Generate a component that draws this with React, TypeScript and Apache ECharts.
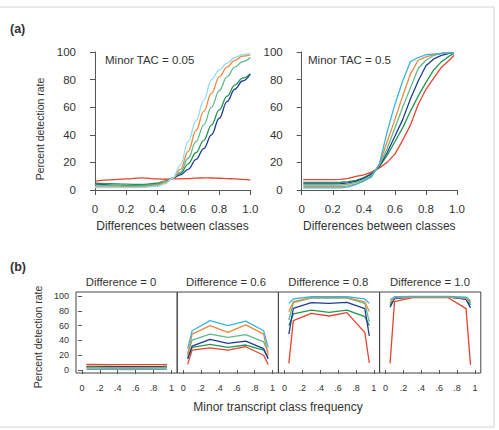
import React, { useEffect, useRef } from "react";
import * as echarts from "echarts";

// ---- Panel (a): detection rate vs. difference between classes ----
const diffX = [0, 0.1, 0.2, 0.3, 0.4, 0.45, 0.5, 0.55, 0.6, 0.65, 0.7, 0.75, 0.8, 0.85, 0.9, 0.95, 1.0];
const tac005Red = [6.5, 7.3, 8.0, 8.8, 8.0, 7.8, 8.0, 8.1, 8.3, 8.6, 8.8, 8.7, 8.5, 8.3, 8.0, 7.7, 7.3];
const tac005Green = [5.0, 4.6, 4.2, 4.0, 5.0, 6.5, 8.5, 12, 19, 27, 36, 47, 58, 68, 76, 81, 84];
const tac005Blue = [4.2, 3.6, 3.2, 3.0, 4.2, 6.0, 8.5, 11, 15, 22, 30, 40, 52, 64, 73, 79, 84];
const tac005Teal = [3.5, 3.2, 3.0, 3.0, 4.0, 6.0, 8.5, 13, 23, 35, 47, 60, 72, 82, 89, 93, 96];
const tac005Orange = [2.4, 2.2, 2.2, 2.3, 3.2, 5.2, 8.5, 15, 28, 43, 57, 70, 82, 89, 94, 97, 98];
const tac005Cyan = [1.8, 1.7, 1.7, 1.8, 2.6, 4.5, 8.5, 18, 35, 50, 65, 80, 87, 92, 96, 98, 99];

const diffX2 = [0.01, 0.1, 0.2, 0.25, 0.3, 0.35, 0.4, 0.45, 0.5, 0.55, 0.6, 0.65, 0.7, 0.75, 0.8, 0.85, 0.9, 0.95, 0.98];
const tac05Red = [7.5, 7.5, 7.5, 7.7, 8.5, 9.8, 11, 13, 16, 20, 26, 36, 47, 62, 73, 81, 89, 94, 97.5];
const tac05Green = [5.5, 5.5, 5.5, 5.6, 6.0, 7.0, 9.0, 12, 17, 25, 35, 45, 57, 68, 78, 87, 93, 97, 99];
const tac05Blue = [4.4, 4.4, 4.4, 4.6, 5.2, 6.5, 8.5, 11.5, 17, 27, 39, 51, 66, 79, 90, 95, 97.5, 99, 99.5];
const tac05Teal = [3.5, 3.5, 3.5, 3.6, 4.2, 5.5, 7.5, 10.5, 18, 30, 45, 60, 74, 88, 94, 97.5, 99, 99.5, 99.5];
const tac05Orange = [2.4, 2.4, 2.4, 2.5, 3.0, 4.5, 6.5, 10, 18.5, 35, 51, 68, 84, 94, 96.5, 98, 99, 99.5, 99.5];
const tac05Cyan = [1.5, 1.5, 1.5, 1.6, 2.2, 4.0, 6.5, 9.5, 19, 42, 62, 79, 93, 96, 98, 98.5, 99, 99.5, 99.5];

// ---- Panel (b): detection rate vs. minor transcript class frequency ----
const freqX = [0.05, 0.1, 0.3, 0.5, 0.7, 0.9, 0.95];
const differences = ["0", "0.6", "0.8", "1.0"];
const freqRed = [
  [7.5, 7.5, 7.3, 7.2, 7.3, 7.4, 7.5],
  [7.6, 27, 30, 27, 31.5, 20, 7.6],
  [9, 66.7, 76.6, 73, 77.5, 50.5, 9.5],
  [9, 92.3, 97.7, 98, 97.7, 83, 7],
];
const freqGreen = [
  [5, 5, 4.8, 4.6, 4.6, 4.8, 5],
  [17, 30.6, 34.7, 30.6, 33.8, 27, 17],
  [60, 75.7, 81, 78, 81, 72, 60],
  [88, 97, 98.5, 98.5, 98.5, 96, 88],
];
const freqBlue = [
  [4, 4, 4.2, 4.5, 4.4, 4.2, 4],
  [15, 32.4, 41.4, 36, 39, 29, 15],
  [48.6, 83.3, 91, 90, 91.4, 83, 46],
  [85, 96.5, 99, 99, 99, 95.5, 84],
];
const freqTeal = [
  [3.5, 3.5, 3.3, 3.2, 3.3, 3.4, 3.5],
  [22, 40.5, 48.6, 44, 47.7, 38, 24],
  [67.6, 91, 97, 97.5, 97, 90, 65],
  [90, 98, 99, 99, 99, 97, 90],
];
const freqOrange = [
  [2.5, 2.5, 2.4, 2.4, 2.4, 2.5, 2.5],
  [20, 48.6, 60, 51, 61, 48.6, 20],
  [78.8, 92.3, 97.7, 98, 97.7, 92, 79],
  [92, 98, 98.5, 99, 98.5, 97, 92],
];
const freqCyan = [
  [1, 1, 0.8, 0.7, 0.8, 0.9, 1],
  [29, 53, 66.7, 60, 66, 53, 30.7],
  [90, 96, 99, 99, 99, 96, 90],
  [95, 99, 99.5, 99.5, 99.5, 98.5, 94],
];

const bottomTicksX = [0, 0.2, 0.4, 0.6, 0.8, 1];
const bottomTicksY = [0, 20, 40, 60, 80, 100];

const COLORS = {
  red: "#e8432f",
  green: "#1f9a50",
  blue: "#1f3a94",
  teal: "#5fba8d",
  orange: "#f0873a",
  cyan: "#35b6e2",
  paleCyan: "#92dcef",
};

const FONT = "'Liberation Sans', Arial, Helvetica, sans-serif";
const AXIS_COLOR = "#555";
const TEXT_COLOR = "#333";

function pairs(xs: number[], ys: number[]) {
  return xs.map((x, i) => [x, ys[i]]);
}

export default function App() {
  const ref = useRef<HTMLDivElement>(null);

  useEffect(() => {
    if (!ref.current) return;
    const chart = echarts.init(ref.current, undefined, { renderer: "svg" });

    const grid: any[] = [];
    const xAxis: any[] = [];
    const yAxis: any[] = [];
    const series: any[] = [];

    const topLabelFmt = (v: number) => (v === 0 ? "0" : v.toFixed(1));
    const bottomLabelFmt = (v: number) => {
      if (Math.abs(v) < 1e-9) return "0";
      if (Math.abs(v - 1) < 1e-9) return "1";
      return "." + Math.round(v * 10);
    };

    // top panels: axes span only the tick range, pushed outward R-style
    const topLefts = [95, 301.7];
    topLefts.forEach((left) => {
      grid.push({ left, top: 52, width: 155.3, height: 138, show: false });
      xAxis.push({
        type: "value",
        gridIndex: grid.length - 1,
        min: 0,
        max: 1,
        interval: 0.2,
        offset: 5,
        axisLine: { show: true, lineStyle: { color: AXIS_COLOR, width: 1 } },
        axisTick: { show: true, length: 5, lineStyle: { color: AXIS_COLOR } },
        axisLabel: { fontSize: 11.5, color: TEXT_COLOR, fontFamily: FONT, margin: 8, formatter: topLabelFmt },
        splitLine: { show: false },
      });
      yAxis.push({
        type: "value",
        gridIndex: grid.length - 1,
        min: 0,
        max: 100,
        interval: 20,
        offset: 7,
        axisLine: { show: true, lineStyle: { color: AXIS_COLOR, width: 1 } },
        axisTick: { show: true, length: 5, lineStyle: { color: AXIS_COLOR } },
        axisLabel: { fontSize: 11.5, color: TEXT_COLOR, fontFamily: FONT, margin: 12 },
        splitLine: { show: false },
      });
    });

    const topSets = [
      { xs: diffX, smooth: true, lines: [
        [tac005Red, COLORS.red], [tac005Green, COLORS.green], [tac005Blue, COLORS.blue],
        [tac005Teal, COLORS.teal], [tac005Orange, COLORS.orange], [tac005Cyan, COLORS.paleCyan],
      ] },
      { xs: diffX2, smooth: false, lines: [
        [tac05Red, COLORS.red], [tac05Green, COLORS.green], [tac05Blue, COLORS.blue],
        [tac05Teal, COLORS.teal], [tac05Orange, COLORS.orange], [tac05Cyan, COLORS.cyan],
      ] },
    ];
    topSets.forEach((set, gi) => {
      set.lines.forEach(([vals, color]) => {
        series.push({
          type: "line",
          xAxisIndex: gi,
          yAxisIndex: gi,
          data: pairs(set.xs, vals as number[]),
          smooth: set.smooth ? 0.4 : false,
          smoothMonotone: "x",
          showSymbol: false,
          symbol: "none",
          lineStyle: { color: color as string, width: 1.3 },
          clip: false,
        });
      });
    });

    // bottom lattice panels: boxed, padded ranges, ticks at fixed values
    const panelLefts = [76, 177.2, 278.4, 379.6];
    panelLefts.forEach((left, p) => {
      grid.push({ left, top: 292, width: 101.2, height: 81, show: true, borderColor: "#444", borderWidth: 1, backgroundColor: "transparent" });
      const gi = grid.length - 1;
      xAxis.push({
        type: "value",
        gridIndex: gi,
        min: -0.067,
        max: 1.065,
        axisLine: { show: false },
        axisTick: { show: true, length: 4, inside: false, customValues: bottomTicksX, lineStyle: { color: AXIS_COLOR } },
        axisLabel: { fontSize: 9, color: TEXT_COLOR, fontFamily: FONT, margin: 10, customValues: bottomTicksX, formatter: bottomLabelFmt },
        splitLine: { show: false },
      });
      yAxis.push({
        type: "value",
        gridIndex: gi,
        min: -4,
        max: 105.4,
        show: p === 0,
        axisLine: { show: false },
        axisTick: { show: true, length: 4, customValues: bottomTicksY, lineStyle: { color: AXIS_COLOR } },
        axisLabel: { fontSize: 9, color: TEXT_COLOR, fontFamily: FONT, margin: 7, customValues: bottomTicksY },
        splitLine: { show: false },
      });
      const lines: [number[], string][] = [
        [freqRed[p], COLORS.red], [freqGreen[p], COLORS.green], [freqBlue[p], COLORS.blue],
        [freqTeal[p], COLORS.teal], [freqOrange[p], COLORS.orange], [freqCyan[p], COLORS.cyan],
      ];
      lines.forEach(([vals, color]) => {
        series.push({
          type: "line",
          xAxisIndex: gi,
          yAxisIndex: gi,
          data: pairs(freqX, vals),
          showSymbol: false,
          symbol: "none",
          lineStyle: { color, width: 1.3 },
        });
      });
    });

    const titleCenters = [121, 226, 328.3, 430];
    const text = (x: number, y: number, t: string, size: number, extra: any = {}) => ({
      type: "text",
      x,
      y,
      rotation: extra.rotation || 0,
      style: {
        text: t,
        fill: TEXT_COLOR,
        fontSize: size,
        fontFamily: FONT,
        fontWeight: extra.bold ? "bold" : "normal",
        align: extra.align || "left",
        verticalAlign: "middle",
      },
    });

    const graphic: any[] = [
      { type: "rect", shape: { x: -2, y: 7, width: 496, height: 420 }, style: { fill: "none", stroke: "#d2d2d2", lineWidth: 1 } },
      text(10, 29, "(a)", 12.5, { bold: true }),
      text(10, 267, "(b)", 12.5, { bold: true }),
      text(105, 60, "Minor TAC = 0.05", 11.5),
      text(308, 60, "Minor TAC = 0.5", 11.5),
      text(172.5, 226, "Differences between classes", 12, { align: "center" }),
      text(379.3, 226, "Differences between classes", 12, { align: "center" }),
      text(40, 129, "Percent detection rate", 10.5, { align: "center", rotation: Math.PI / 2 }),
      text(38, 337, "Percent detection rate", 10.5, { align: "center", rotation: Math.PI / 2 }),
      text(278, 407, "Minor transcript class frequency", 12, { align: "center" }),
      ...differences.map((d, i) => text(titleCenters[i], 282, `Difference = ${d}`, 11.3, { align: "center" })),
    ];

    chart.setOption({
      animation: false,
      backgroundColor: "#fff",
      grid,
      xAxis,
      yAxis,
      series,
      graphic,
    });

    return () => chart.dispose();
  }, []);

  return <div ref={ref} style={{ position: "fixed", left: 0, top: 0, width: 499, height: 430 }} />;
}
